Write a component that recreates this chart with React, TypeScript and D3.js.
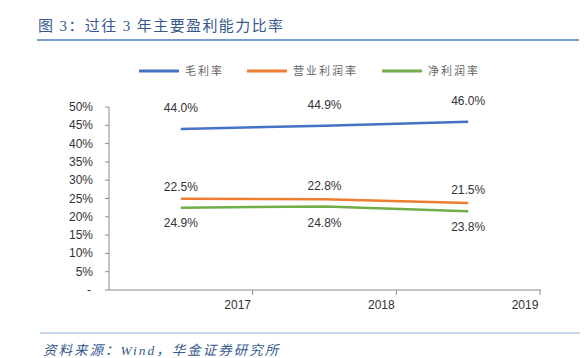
import React from 'react';
import * as d3 from 'd3';

const years = ['2017', '2018', '2019'];
const grossMargin = [44.0, 44.9, 46.0];
const operatingMargin = [24.9, 24.8, 23.8];
const netMargin = [22.5, 22.8, 21.5];
const yTicks = [0, 5, 10, 15, 20, 25, 30, 35, 40, 45, 50];
const seriesNames = ['毛利率', '营业利润率', '净利润率'];
const title = '图 3：过往 3 年主要盈利能力比率';
const source = '资料来源：Wind，华金证券研究所';

const W = 588;
const H = 358;
const colors = ['#4472C4', '#ED7D31', '#70AD47'];

const App = () => {
  const x = d3.scaleBand().domain(years).range([109, 540]);
  const y = d3.scaleLinear().domain([0, 50]).range([290, 107]);
  const cx = (d: string) => (x(d) as number) + x.bandwidth() / 2;

  const line = d3
    .line<number>()
    .x((_, i) => cx(years[i]))
    .y((d) => y(d));

  const series = [
    { values: grossMargin, dy: -21 },
    { values: operatingMargin, dy: 24 },
    { values: netMargin, dy: -21 },
  ];

  const legendX = [139, 247, 382];
  const font = '"Liberation Sans", Arial, sans-serif';
  const cjk = '"Noto Sans CJK SC", sans-serif';

  return (
    <svg width={W} height={H} style={{ position: 'absolute', left: 0, top: 0 }}>
      <rect width={W} height={H} fill="#fff" />
      {/* title */}
      <text
        x={38}
        y={31}
        fontSize={15}
        fill="#36598f"
        letterSpacing={1.4}
        fontFamily={`"Liberation Serif", ${cjk}`}
      >
        {title}
      </text>
      <line x1={37} x2={579} y1={40} y2={40} stroke="#4a7ebb" strokeWidth={1.5} />

      {/* legend */}
      {seriesNames.map((name, i) => (
        <g key={name}>
          <line x1={legendX[i]} x2={legendX[i] + 40} y1={71} y2={71} stroke={colors[i]} strokeWidth={3} />
          <text
            x={legendX[i] + 46}
            y={75}
            fontSize={11}
            fill="#666"
            letterSpacing={2}
            fontFamily={cjk}
          >
            {name}
          </text>
        </g>
      ))}

      {/* y axis */}
      <line x1={109} x2={109} y1={y(50)} y2={y(0)} stroke="#8c8c8c" />
      {yTicks.map((t) => (
        <g key={t}>
          <line x1={105} x2={109} y1={y(t)} y2={y(t)} stroke="#8c8c8c" />
          <text
            x={t === 0 ? 91 : 93}
            y={y(t) + 4}
            textAnchor="end"
            fontSize={12}
            fill="#333"
            fontFamily={font}
          >
            {t === 0 ? '-' : `${t}%`}
          </text>
        </g>
      ))}

      {/* x axis */}
      <line x1={109} x2={541} y1={y(0)} y2={y(0)} stroke="#8c8c8c" />
      {years.map((yr) => {
        const end = (x(yr) as number) + x.bandwidth();
        return (
          <g key={yr}>
            <line x1={end} x2={end} y1={y(0)} y2={y(0) + 5} stroke="#8c8c8c" />
            <text x={end - 15} y={y(0) + 19} textAnchor="middle" fontSize={12} fill="#333" fontFamily={font}>
              {yr}
            </text>
          </g>
        );
      })}

      {/* lines + labels */}
      {series.map((s, i) => (
        <g key={i}>
          <path d={line(s.values) as string} fill="none" stroke={colors[i]} strokeWidth={2.5} />
          {s.values.map((v, j) => (
            <text
              key={j}
              x={cx(years[j])}
              y={y(v) + s.dy + 4}
              textAnchor="middle"
              fontSize={12}
              fill="#333"
              fontFamily={font}
            >
              {`${v.toFixed(1)}%`}
            </text>
          ))}
        </g>
      ))}

      {/* source */}
      <line x1={40} x2={580} y1={333} y2={333} stroke="#8fb0d6" strokeWidth={1} />
      <text
        x={43}
        y={355}
        fontSize={13.5}
        fill="#36598f"
        fontStyle="italic"
        letterSpacing={2}
        fontFamily={`"Liberation Serif", ${cjk}`}
      >
        {source}
      </text>
    </svg>
  );
};

export default App;
